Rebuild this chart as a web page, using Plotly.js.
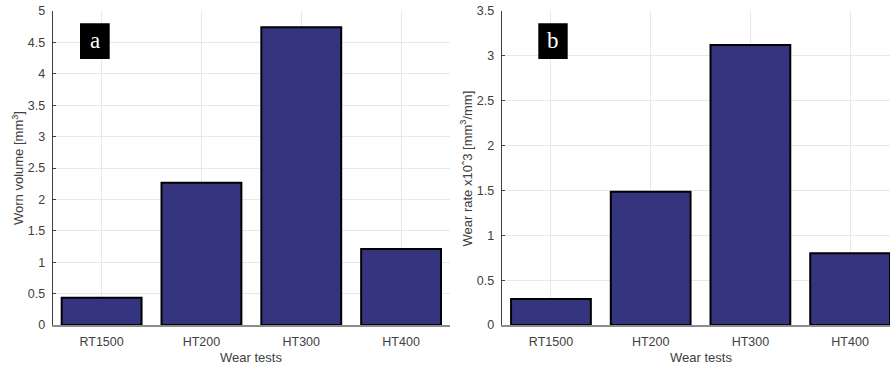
<!DOCTYPE html>
<html>
<head>
<meta charset="utf-8">
<script src="https://cdn.plot.ly/plotly-3.0.1.min.js"></script>
<style>html,body{margin:0;padding:0;background:#fff;}#chart{width:890px;height:369px;}</style>
</head>
<body>
<div id="chart"></div>
<script>
const categories = ["RT1500", "HT200", "HT300", "HT400"];
const wornVolume = [0.435, 2.265, 4.74, 1.21];
const wearRate = [0.29, 1.486, 3.12, 0.80];
const volumeTicks = [0, 0.5, 1, 1.5, 2, 2.5, 3, 3.5, 4, 4.5, 5];
const volumeTickLabels = ["0", "0.5", "1", "1.5", "2", "2.5", "3", "3.5", "4", "4.5", "5"];
const rateTicks = [0, 0.5, 1, 1.5, 2, 2.5, 3, 3.5];
const rateTickLabels = ["0", "0.5", "1", "1.5", "2", "2.5", "3", "3.5"];

const W = 890, H = 369;
const px = x => x / W;
const py = y => 1 - y / H;

const barColor = "#34357e";
const font = "Liberation Sans, Arial, sans-serif";

const traces = [
  {type: "bar", x: categories, y: wornVolume, xaxis: "x", yaxis: "y", width: 0.8,
   marker: {color: barColor, line: {color: "#000", width: 2}}, hoverinfo: "x+y"},
  {type: "bar", x: categories, y: wearRate, xaxis: "x2", yaxis: "y2", width: 0.8,
   marker: {color: barColor, line: {color: "#000", width: 2}}, hoverinfo: "x+y"}
];

const xCommon = {
  type: "category", showgrid: true, gridcolor: "#e8e8e8", gridwidth: 1,
  showline: true, linecolor: "#8c8c8c", linewidth: 1.5, ticks: "", zeroline: false,
  ticklabelstandoff: 4,
  tickfont: {family: font, size: 12.5, color: "#404040"}, fixedrange: true
};
const yCommon = {
  showgrid: true, gridcolor: "#e8e8e8", gridwidth: 1, showline: true, linecolor: "#404040",
  linewidth: 1, ticks: "inside", ticklen: 3, tickcolor: "#404040", zeroline: false,
  ticklabelstandoff: 4,
  tickfont: {family: font, size: 12.5, color: "#404040"}, tickmode: "array", fixedrange: true
};

const ann = (text, x, y, size, extra) => Object.assign({
  text: text, xref: "paper", yref: "paper", x: x, y: y, xanchor: "center", yanchor: "middle",
  showarrow: false, font: {family: font, size: size, color: "#404040"}
}, extra || {});

const layout = {
  width: W, height: H,
  margin: {l: 0, r: 0, t: 0, b: 0},
  paper_bgcolor: "#fff", plot_bgcolor: "#fff",
  showlegend: false, bargap: 0.2,
  xaxis: Object.assign({}, xCommon, {domain: [px(52.7), px(450)], range: [-0.49, 3.49], anchor: "y"}),
  yaxis: Object.assign({}, yCommon, {domain: [py(325), py(11)], range: [0, 5], anchor: "x",
    tickvals: volumeTicks, ticktext: volumeTickLabels}),
  xaxis2: Object.assign({}, xCommon, {domain: [px(501.7), px(890)], range: [-0.494, 3.4], anchor: "y2"}),
  yaxis2: Object.assign({}, yCommon, {domain: [py(325), py(11)], range: [0, 3.5], anchor: "x2",
    tickvals: rateTicks, ticktext: rateTickLabels}),
  shapes: [
    {type: "rect", xref: "paper", yref: "paper", x0: px(80), x1: px(109.7), y0: py(59), y1: py(23.3),
     fillcolor: "#000", line: {width: 0}},
    {type: "rect", xref: "paper", yref: "paper", x0: px(538.3), x1: px(567.7), y0: py(59), y1: py(23.3),
     fillcolor: "#000", line: {width: 0}}
  ],
  annotations: [
    ann("a", px(95), py(40), 23, {font: {family: "Liberation Serif, Times New Roman, serif", size: 23, color: "#fff"}}),
    ann("b", px(553), py(40), 23, {font: {family: "Liberation Serif, Times New Roman, serif", size: 23, color: "#fff"}}),
    ann("Worn volume [mm<sup>3</sup>]", px(18), py(168), 13, {textangle: -90}),
    ann("Wear rate x10ˆ3 [mm<sup>3</sup>/mm]", px(466.5), py(168), 13, {textangle: -90}),
    ann("Wear tests", px(251.5), py(357), 13),
    ann("Wear tests", px(700.5), py(357), 13)
  ]
};

Plotly.newPlot("chart", traces, layout, {displayModeBar: false, staticPlot: true});
</script>
</body>
</html>
